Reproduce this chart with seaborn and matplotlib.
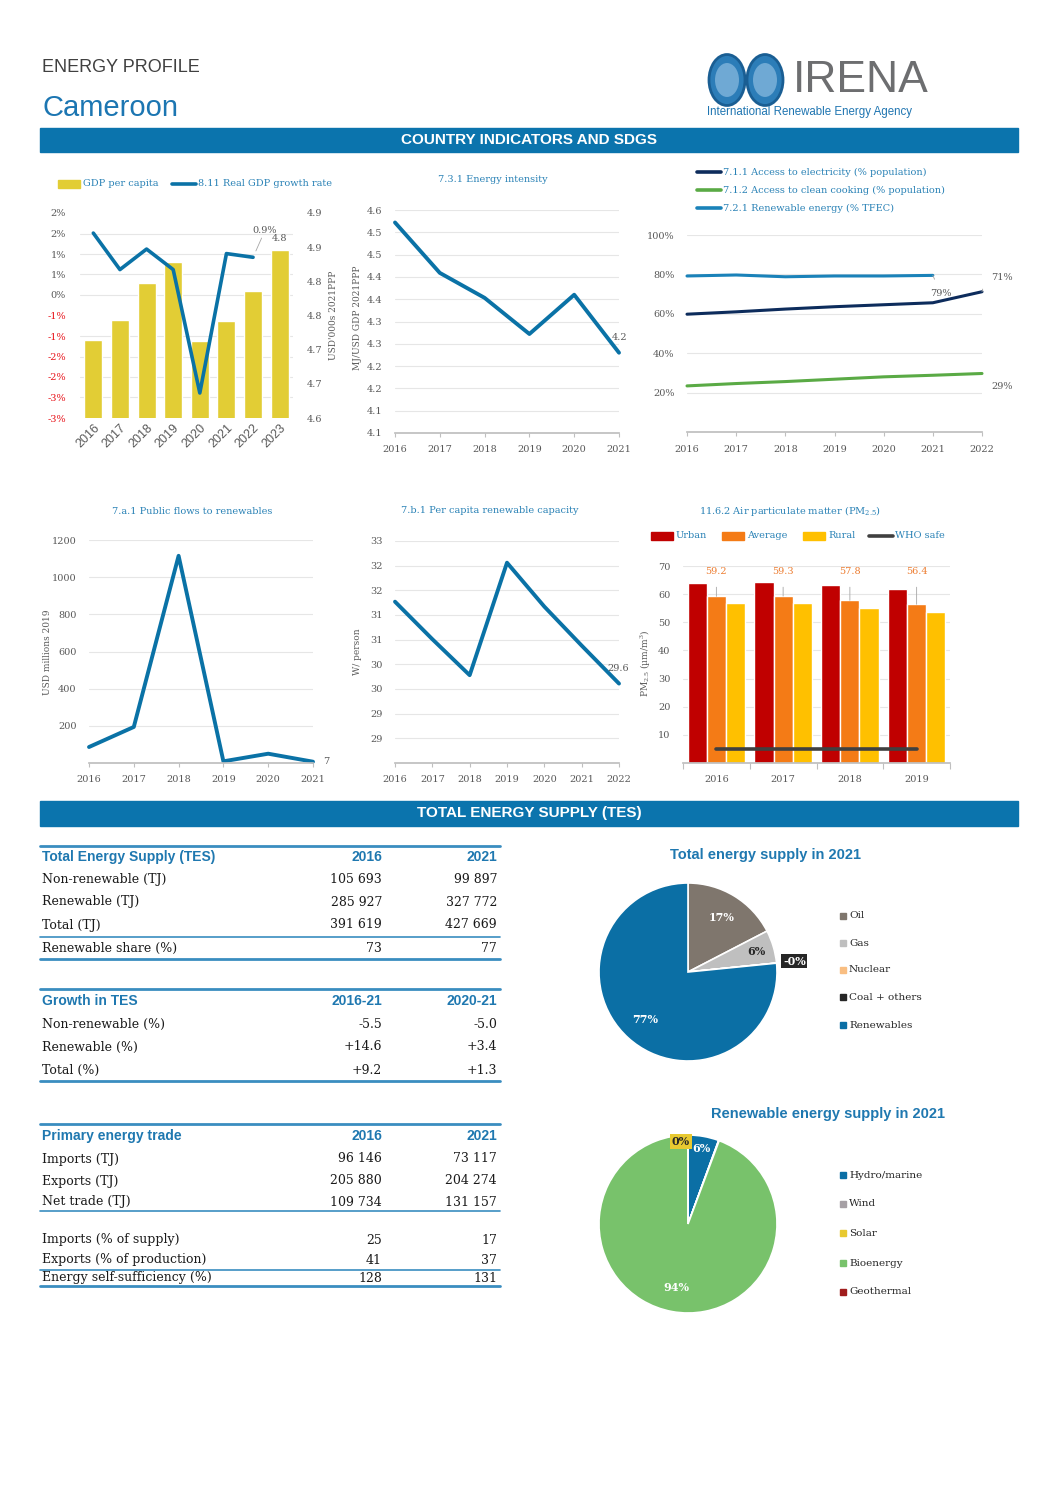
import numpy as np
import pandas as pd
import matplotlib
matplotlib.use("Agg")
import matplotlib.pyplot as plt
import seaborn as sns
from matplotlib.patches import Rectangle, Circle
from matplotlib.lines import Line2D

# ----------------------------------------------------------------
# DATA
# ----------------------------------------------------------------
gdp_years = ["2016", "2017", "2018", "2019", "2020", "2021", "2022", "2023"]
gdp_per_capita = [4.714, 4.744, 4.798, 4.829, 4.712, 4.742, 4.786, 4.846]
gdp_growth = [1.51, 0.62, 1.12, 0.62, -2.39, 1.01, 0.92]
gdp_growth_ticks = [2.0, 1.5, 1.0, 0.5, 0.0, -0.5, -1.0, -1.5, -2.0, -2.5, -3.0]
gdp_growth_ticklabels = ["2%", "2%", "1%", "1%", "0%", "-1%", "-1%", "-2%", "-2%", "-3%", "-3%"]
gdp_pc_ticks = [4.90, 4.85, 4.80, 4.75, 4.70, 4.65, 4.60]
gdp_pc_ticklabels = ["4.9", "4.9", "4.8", "4.8", "4.7", "4.7", "4.6"]

ei_years = [2016, 2017, 2018, 2019, 2020, 2021]
ei_values = [4.522, 4.409, 4.353, 4.272, 4.360, 4.230]
ei_ticks = [4.55, 4.50, 4.45, 4.40, 4.35, 4.30, 4.25, 4.20, 4.15, 4.10, 4.05]
ei_ticklabels = ["4.6", "4.5", "4.5", "4.4", "4.4", "4.3", "4.3", "4.2", "4.2", "4.1", "4.1"]

acc_years = [2016, 2017, 2018, 2019, 2020, 2021, 2022]
elec_access = [59.8, 61.0, 62.4, 63.6, 64.6, 65.6, 71.2]
cooking_access = [23.4, 24.6, 25.6, 26.8, 28.0, 28.8, 29.7]
re_tfec_years = [2016, 2017, 2018, 2019, 2020, 2021]
re_tfec = [79.2, 79.7, 78.8, 79.2, 79.2, 79.5]
acc_ticks = [20, 40, 60, 80, 100]
acc_ticklabels = ["20%", "40%", "60%", "80%", "100%"]

flow_years = [2016, 2017, 2018, 2019, 2020, 2021]
public_flows = [86, 194, 1115, 9, 50, 7]
flow_ticks = [200, 400, 600, 800, 1000, 1200]

cap_years = [2016, 2017, 2018, 2019, 2020, 2021, 2022]
re_capacity = [31.27, 30.51, 29.78, 32.06, 31.17, 30.38, 29.61]
cap_ticks = [28.5, 29.0, 29.5, 30.0, 30.5, 31.0, 31.5, 32.0, 32.5]
cap_ticklabels = ["29", "29", "30", "30", "31", "31", "32", "32", "33"]

pm_years = ["2016", "2017", "2018", "2019"]
pm_urban = [64.1, 64.3, 63.2, 61.8]
pm_average = [59.2, 59.3, 57.8, 56.4]
pm_rural = [56.8, 56.8, 55.0, 53.5]
who_safe = [5, 5, 5, 5]
pm_ticks = [10, 20, 30, 40, 50, 60, 70]

tes_rows = ["Non-renewable (TJ)", "Renewable (TJ)", "Total (TJ)", "Renewable share (%)"]
tes_2016 = ["105 693", "285 927", "391 619", "73"]
tes_2021 = ["99 897", "327 772", "427 669", "77"]
growth_rows = ["Non-renewable (%)", "Renewable (%)", "Total (%)"]
growth_1621 = ["-5.5", "+14.6", "+9.2"]
growth_2021 = ["-5.0", "+3.4", "+1.3"]
trade_rows = ["Imports (TJ)", "Exports (TJ)", "Net trade (TJ)"]
trade_2016 = ["96 146", "205 880", "109 734"]
trade_2021 = ["73 117", "204 274", "131 157"]
share_rows = ["Imports (% of supply)", "Exports (% of production)", "Energy self-sufficiency (%)"]
share_2016 = ["25", "41", "128"]
share_2021 = ["17", "37", "131"]

tes_sources = ["Oil", "Gas", "Nuclear", "Coal + others", "Renewables"]
tes_shares = [17.4, 6.0, 0.0, 0.02, 76.6]
tes_labels = ["17%", "6%", "", "-0%", "77%"]
re_sources = ["Hydro/marine", "Wind", "Solar", "Bioenergy", "Geothermal"]
re_shares = [5.6, 0.0, 0.1, 94.3, 0.0]
re_labels = ["6%", "", "0%", "94%", ""]

# ----------------------------------------------------------------
# STYLE
# ----------------------------------------------------------------
sns.set_theme(style="white")
plt.rcParams["font.family"] = ["DejaVu Serif"]
plt.rcParams["mathtext.fontset"] = "dejavuserif"

W, H = 1058, 1497
SANS = ["Liberation Sans", "DejaVu Sans"]
BAND = "#0B74AD"
LINE_BLUE = "#0A72A6"
TITLE_BLUE = "#2A82B6"
HEAD_BLUE = "#1F78B0"
TICK = "#595959"
GRID = "#E6E6E6"
AXIS = "#BFBFBF"
RED = "#E8141B"
YELLOW = "#E2CD35"

fig = plt.figure(figsize=(W / 100, H / 100), dpi=100)
fig.patch.set_facecolor("white")


def box(x0, y0, x1, y1):
    return [x0 / W, 1 - y1 / H, (x1 - x0) / W, (y1 - y0) / H]


def T(x, y, s, **kw):
    kw.setdefault("va", "center")
    return fig.text(x / W, 1 - y / H, s, **kw)


def hline(x0, x1, y, lw=1.0, color="#3A8DC0"):
    fig.add_artist(Line2D([x0 / W, x1 / W], [1 - y / H, 1 - y / H], color=color, lw=lw,
                          transform=fig.transFigure))


def leg_line(x, y, color, label, lw=2.6, length=24):
    fig.add_artist(Line2D([x / W, (x + length) / W], [1 - y / H, 1 - y / H], color=color,
                          lw=lw, transform=fig.transFigure, solid_capstyle="round"))
    T(x + length + 2, y, label, fontsize=7, color=TITLE_BLUE)


def leg_patch(x, y, color, label, w=22, h=7, tcolor=TITLE_BLUE, size=7):
    fig.add_artist(Rectangle((x / W, 1 - (y + h / 2) / H), w / W, h / H, color=color,
                             transform=fig.transFigure))
    T(x + w + 3, y, label, fontsize=size, color=tcolor)


def style_line_axes(ax, years, ticks, labels, ylim):
    ax.set_xlim(years[0], years[-1])
    ax.set_ylim(*ylim)
    ax.set_xticks(years, [str(y) for y in years])
    ax.set_yticks(ticks, labels)
    for s in ["top", "right", "left"]:
        ax.spines[s].set_visible(False)
    ax.spines["bottom"].set_color(AXIS)
    ax.yaxis.grid(True, color=GRID, lw=0.8)
    ax.xaxis.grid(False)
    ax.set_axisbelow(True)
    ax.tick_params(axis="y", length=0, pad=9, labelsize=7, labelcolor=TICK)
    ax.tick_params(axis="x", length=3, width=0.8, color=AXIS, pad=6, labelsize=7,
                   labelcolor=TICK, bottom=True)
    ax.set_xlabel("")
    ax.set_ylabel("")


# ----------------------------------------------------------------
# HEADER
# ----------------------------------------------------------------
T(42, 67, "ENERGY PROFILE", fontsize=13, color="#404040", family=SANS)
T(43, 108, "Cameroon", fontsize=21, color="#1C76B2", family=SANS)
for cx in (727, 765):
    fig.add_artist(Circle((cx / W, 1 - 80 / H), 18 / W, transform=fig.transFigure,
                          facecolor="#2C7DB8", edgecolor="#1A5E93", lw=2))
    fig.add_artist(Circle((cx / W, 1 - 80 / H), 12 / W, transform=fig.transFigure,
                          facecolor="#6FA9D4", edgecolor="none"))
T(793, 81, "IRENA", fontsize=32, color="#6D6E70", family=SANS)
T(707, 112, "International Renewable Energy Agency", fontsize=8.3, color="#1F75B1", family=SANS)

for y0, y1, txt in [(128, 152, "COUNTRY INDICATORS AND SDGS"), (801, 826, "TOTAL ENERGY SUPPLY (TES)")]:
    fig.add_artist(Rectangle((40 / W, 1 - y1 / H), 978 / W, (y1 - y0) / H, color=BAND,
                             transform=fig.transFigure))
    T(529, (y0 + y1) / 2, txt, fontsize=11, color="white", weight="bold", ha="center",
      family=SANS)

# ----------------------------------------------------------------
# GDP PER CAPITA & GROWTH
# ----------------------------------------------------------------
ax = fig.add_axes(box(80, 213, 293, 418))
sns.barplot(x=gdp_years, y=gdp_per_capita, color=YELLOW, saturation=1, width=0.68, ax=ax)
ax2 = ax.twinx()
ax.yaxis.tick_right()
ax.set_ylim(4.6, 4.9)
ax.set_yticks(gdp_pc_ticks, gdp_pc_ticklabels)
ax.set_yticks(np.linspace(4.6, 4.9, len(gdp_growth_ticks)), minor=True)
ax.yaxis.grid(True, which="minor", color=GRID, lw=0.8)
ax.yaxis.grid(False, which="major")
ax.xaxis.grid(False)
ax.set_axisbelow(True)
ax.tick_params(axis="y", which="both", length=0, pad=10, labelsize=7, labelcolor=TICK)
ax.set_xticks(range(len(gdp_years)), gdp_years, rotation=45, ha="right", rotation_mode="anchor")
ax.tick_params(axis="x", length=0, pad=3, labelcolor=TICK, labelsize=9)
for lab in ax.get_xticklabels():
    lab.set_family(SANS)
ax.set_xlabel("")
ax.set_ylabel("")

sns.lineplot(x=np.arange(len(gdp_growth)), y=gdp_growth, color=LINE_BLUE, lw=2.6, ax=ax2)
ax.set_xlim(-0.5, len(gdp_years) - 0.5)
ax2.yaxis.tick_left()
ax2.set_ylim(-3, 2)
ax2.set_yticks(gdp_growth_ticks, gdp_growth_ticklabels)
ax2.tick_params(axis="y", length=0, pad=10, labelsize=7)
for lab, v in zip(ax2.get_yticklabels(), gdp_growth_ticks):
    lab.set_color(RED if v < 0 else TICK)
ax2.set_ylabel("")
for a in (ax, ax2):
    for s in a.spines.values():
        s.set_visible(False)
ax2.annotate("0.9%", xy=(6, gdp_growth[6]), xytext=(12, 27), textcoords="offset pixels",
             ha="center", va="center", fontsize=7, color=TICK,
             arrowprops=dict(arrowstyle="-", color="#A6A6A6", lw=0.6, shrinkA=0, shrinkB=5))
ax.annotate("4.8", xy=(7, gdp_per_capita[7]), xytext=(0, 11), textcoords="offset pixels",
            ha="center", va="center", fontsize=7, color=TICK)
T(333, 315, "USD'000s 2021PPP", fontsize=6.5, color=TICK, rotation=90, ha="center")
leg_patch(58, 184, YELLOW, "GDP per capita")
leg_line(172, 184, LINE_BLUE, "8.11 Real GDP growth rate")

# ----------------------------------------------------------------
# ENERGY INTENSITY
# ----------------------------------------------------------------
ax = fig.add_axes(box(395, 210, 619, 433))
sns.lineplot(x=ei_years, y=ei_values, color=LINE_BLUE, lw=2.8, ax=ax, clip_on=False)
style_line_axes(ax, ei_years, ei_ticks, ei_ticklabels, (4.05, 4.55))
ax.annotate("4.2", xy=(ei_years[-1], ei_values[-1]), xytext=(1, 15), textcoords="offset pixels",
            ha="center", va="center", fontsize=7, color=TICK)
T(493, 179, "7.3.1 Energy intensity", fontsize=7, color=TITLE_BLUE, ha="center")
T(357, 318, "MJ/USD GDP 2021PPP", fontsize=6.5, color=TICK, rotation=90, ha="center")

# ----------------------------------------------------------------
# ACCESS INDICATORS
# ----------------------------------------------------------------
ax = fig.add_axes(box(687, 235, 982, 432))
sns.lineplot(x=re_tfec_years, y=re_tfec, color="#1A82B9", lw=2.2, ax=ax, clip_on=False)
sns.lineplot(x=acc_years, y=elec_access, color="#0D2C5C", lw=2.2, ax=ax, clip_on=False)
sns.lineplot(x=acc_years, y=cooking_access, color="#5AAA45", lw=2.2, ax=ax, clip_on=False)
style_line_axes(ax, acc_years, acc_ticks, acc_ticklabels, (0, 100))
ax.annotate("71%", xy=(acc_years[-1], elec_access[-1]), xytext=(20, 14), textcoords="offset pixels",
            ha="center", va="center", fontsize=7, color=TICK,
            arrowprops=dict(arrowstyle="-", color="#A6A6A6", lw=0.6, shrinkA=9, shrinkB=0,
                            connectionstyle="angle,angleA=0,angleB=75,rad=0"))
ax.annotate("79%", xy=(re_tfec_years[-1], re_tfec[-1]), xytext=(8, -18), textcoords="offset pixels",
            ha="center", va="center", fontsize=7, color=TICK,
            arrowprops=dict(arrowstyle="-", color="#A6A6A6", lw=0.6, shrinkA=5, shrinkB=0))
ax.annotate("29%", xy=(acc_years[-1], cooking_access[-1]), xytext=(20, -13),
            textcoords="offset pixels", ha="center", va="center", fontsize=7, color=TICK)
leg_line(697, 172, "#0D2C5C", "7.1.1 Access to electricity (% population)")
leg_line(697, 190, "#5AAA45", "7.1.2 Access to clean cooking (% population)")
leg_line(697, 208, "#1A82B9", "7.2.1 Renewable energy (% TFEC)")

# ----------------------------------------------------------------
# PUBLIC FLOWS
# ----------------------------------------------------------------
ax = fig.add_axes(box(89, 540, 313, 763))
sns.lineplot(x=flow_years, y=public_flows, color=LINE_BLUE, lw=2.8, ax=ax, clip_on=False)
style_line_axes(ax, flow_years, flow_ticks, [str(t) for t in flow_ticks], (0, 1200))
ax.annotate("7", xy=(flow_years[-1], public_flows[-1]), xytext=(13, 0), textcoords="offset pixels",
            ha="center", va="center", fontsize=7, color=TICK)
T(192, 512, "7.a.1 Public flows to renewables", fontsize=7, color=TITLE_BLUE, ha="center")
T(47, 652, "USD millions 2019", fontsize=6.5, color=TICK, rotation=90, ha="center")

# ----------------------------------------------------------------
# PER CAPITA RENEWABLE CAPACITY
# ----------------------------------------------------------------
ax = fig.add_axes(box(395, 541, 619, 763))
sns.lineplot(x=cap_years, y=re_capacity, color=LINE_BLUE, lw=2.8, ax=ax, clip_on=False)
style_line_axes(ax, cap_years, cap_ticks, cap_ticklabels, (28.0, 32.5))
ax.annotate("29.6", xy=(cap_years[-1], re_capacity[-1]), xytext=(-1, 15), textcoords="offset pixels",
            ha="center", va="center", fontsize=7, color=TICK)
T(490, 511, "7.b.1 Per capita renewable capacity", fontsize=7, color=TITLE_BLUE, ha="center")
T(357, 652, "W/ person", fontsize=6.5, color=TICK, rotation=90, ha="center")

# ----------------------------------------------------------------
# AIR PARTICULATE MATTER
# ----------------------------------------------------------------
pm_colors = {"Urban": "#C00000", "Average": "#F47B16", "Rural": "#FFC000"}
pm_df = pd.DataFrame({
    "year": pm_years * 3,
    "type": ["Urban"] * 4 + ["Average"] * 4 + ["Rural"] * 4,
    "value": pm_urban + pm_average + pm_rural,
})
ax = fig.add_axes(box(683, 566, 950, 763))
sns.barplot(data=pm_df, x="year", y="value", hue="type", hue_order=list(pm_colors),
            palette=pm_colors, width=0.86, gap=0, saturation=1, legend=False, ax=ax)
sns.lineplot(x=np.arange(len(who_safe)), y=who_safe, color="#404040", lw=2.6, ax=ax)
ax.set_xlim(-0.5, len(pm_years) - 0.5)
ax.set_ylim(0, 70)
ax.set_yticks(pm_ticks, [str(t) for t in pm_ticks])
ax.set_xticks(np.arange(-0.5, len(pm_years)), minor=True)
for s in ["top", "right", "left"]:
    ax.spines[s].set_visible(False)
ax.spines["bottom"].set_color(AXIS)
ax.yaxis.grid(True, color=GRID, lw=0.8)
ax.xaxis.grid(False)
ax.set_axisbelow(True)
ax.tick_params(axis="y", length=0, pad=9, labelsize=7, labelcolor=TICK)
ax.tick_params(axis="x", which="major", length=0, pad=9, labelsize=7, labelcolor=TICK)
ax.tick_params(axis="x", which="minor", length=4, width=0.8, color=AXIS, bottom=True)
ax.set_xlabel("")
ax.set_ylabel("")
for i, v in enumerate(pm_average):
    ax.annotate(f"{v:.1f}", xy=(i, v), xytext=(i, 68.2), textcoords="data", ha="center",
                va="center", fontsize=7, color="#ED7D31",
                arrowprops=dict(arrowstyle="-", color="#A6A6A6", lw=0.6, shrinkA=6, shrinkB=0))
T(790, 511, "11.6.2 Air particulate matter (PM$_{2.5}$)", fontsize=7, color=TITLE_BLUE, ha="center")
T(646, 663, "PM$_{2.5}$ (\u00b5m/m$^3$)", fontsize=6.5, color=TICK, rotation=90, ha="center")
leg_patch(651, 536, pm_colors["Urban"], "Urban")
leg_patch(722, 536, pm_colors["Average"], "Average")
leg_patch(803, 536, pm_colors["Rural"], "Rural")
leg_line(869, 536, "#404040", "WHO safe")

# ----------------------------------------------------------------
# TABLES
# ----------------------------------------------------------------
TXT = "#1A1A1A"
C1, C2 = 382, 497


def table_header(y, title, h1, h2):
    T(42, y, title, fontsize=10, weight="bold", color=HEAD_BLUE, family=SANS)
    T(C1, y, h1, fontsize=10, weight="bold", color=HEAD_BLUE, family=SANS, ha="right")
    T(C2, y, h2, fontsize=10, weight="bold", color=HEAD_BLUE, family=SANS, ha="right")


def table_rows(ys, names, c1, c2):
    for y, n, a, b in zip(ys, names, c1, c2):
        T(42, y, n, fontsize=9, color=TXT)
        T(C1, y, a, fontsize=9, color=TXT, ha="right")
        T(C2, y, b, fontsize=9, color=TXT, ha="right")


hline(40, 500, 846, lw=2.0)
table_header(857, "Total Energy Supply (TES)", "2016", "2021")
table_rows([880, 902, 925, 948], tes_rows, tes_2016, tes_2021)
hline(40, 500, 937, lw=1.2)
hline(40, 500, 959, lw=2.0)

hline(40, 500, 989, lw=2.0)
table_header(1001, "Growth in TES", "2016-21", "2020-21")
table_rows([1024, 1047, 1070], growth_rows, growth_1621, growth_2021)
hline(40, 500, 1081, lw=2.0)

hline(40, 500, 1124, lw=2.0)
table_header(1136, "Primary energy trade", "2016", "2021")
table_rows([1159, 1181, 1202], trade_rows, trade_2016, trade_2021)
hline(40, 500, 1211, lw=1.2)
table_rows([1240, 1260, 1278], share_rows, share_2016, share_2021)
hline(40, 500, 1270, lw=1.2)
hline(40, 500, 1286, lw=2.0)

# ----------------------------------------------------------------
# PIES
# ----------------------------------------------------------------
tes_colors = ["#7F766D", "#BFBFBF", "#F9BE82", "#262626", "#0B6FA5"]
re_colors = ["#0B6FA5", "#A6A0A5", "#E8C930", "#78C26B", "#A01D1D"]


def draw_pie(rect, shares, colors, labels, label_style, legend_x, legend_ys, names, title, title_xy):
    ax = fig.add_axes(rect)
    wedges, _ = ax.pie(shares, colors=colors, startangle=90, counterclock=False,
                       wedgeprops=dict(edgecolor="white", linewidth=1.2))
    ax.set_xlim(-1, 1)
    ax.set_ylim(-1, 1)
    ax.set_aspect("equal")
    for w, lab, st in zip(wedges, labels, label_style):
        if not lab:
            continue
        ang = st.get("angle", (w.theta1 + w.theta2) / 2)
        r = st["r"]
        ax.text(r * np.cos(np.deg2rad(ang)), r * np.sin(np.deg2rad(ang)), lab,
                ha="center", va="center", fontsize=8, weight="bold", color=st["color"],
                bbox=st.get("bbox"), clip_on=False)
    for y, n, c in zip(legend_ys, names, colors):
        leg_patch(legend_x, y, c, n, w=6, h=6, tcolor="#262626", size=7.5)
    T(title_xy[0], title_xy[1], title, fontsize=10.5, weight="bold", color=HEAD_BLUE,
      family=SANS, ha="center")


draw_pie(box(599, 883, 777, 1061), tes_shares, tes_colors, tes_labels,
         [dict(r=0.72, color="white"), dict(r=0.8, color="#262626"), dict(r=0),
          dict(r=1.2, color="white", bbox=dict(boxstyle="square,pad=0.15", fc="#262626", ec="none")),
          dict(r=0.72, color="white")],
         840, [916, 943, 970, 997, 1025], tes_sources, "Total energy supply in 2021", (766, 855))

draw_pie(box(599, 1135, 777, 1313), re_shares, re_colors, re_labels,
         [dict(r=0.86, color="white"), dict(r=0),
          dict(r=0.93, angle=95, color="#262626", bbox=dict(boxstyle="square,pad=0.15", fc="#E8C930", ec="none")),
          dict(r=0.72, color="white"), dict(r=0)],
         840, [1175, 1204, 1233, 1263, 1292], re_sources, "Renewable energy supply in 2021", (828, 1114))

fig.savefig("out.png", dpi=100, facecolor="white")
